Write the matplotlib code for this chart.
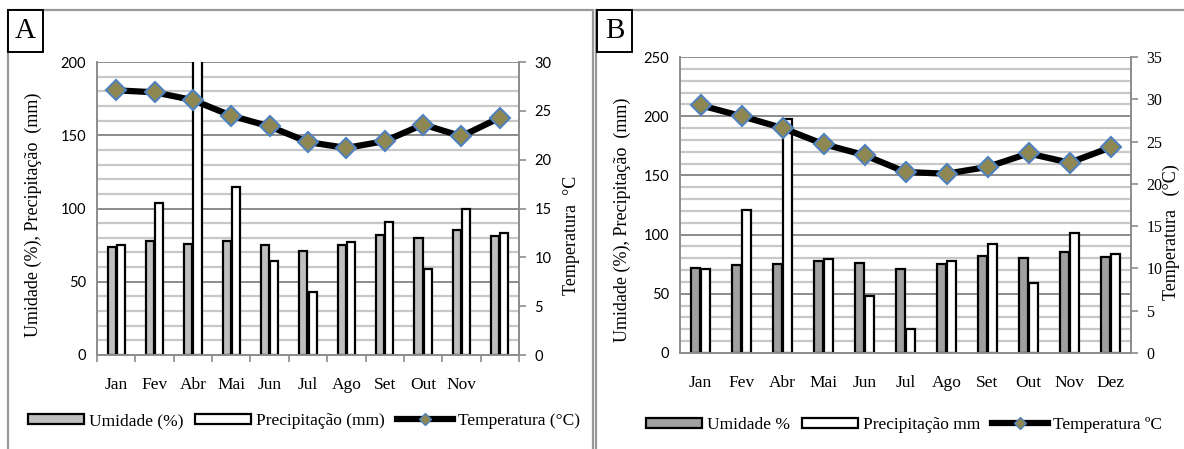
import matplotlib
matplotlib.use("Agg")
import matplotlib.pyplot as plt
import numpy as np
from matplotlib.patches import Rectangle, Patch
from matplotlib.lines import Line2D

# panel A
meses_a = ['Jan', 'Fev', 'Abr', 'Mai', 'Jun', 'Jul', 'Ago', 'Set', 'Out', 'Nov', '']
umid_a = [74, 78, 76, 78, 75, 71, 75, 82, 80, 85, 81]
prec_a = [75, 104, 290, 115, 64, 43, 77, 91, 59, 100, 83]
temp_a = [27.1, 26.9, 26.1, 24.5, 23.4, 21.8, 21.2, 21.9, 23.6, 22.4, 24.3]

# panel B
meses_b = ['Jan', 'Fev', 'Abr', 'Mai', 'Jun', 'Jul', 'Ago', 'Set', 'Out', 'Nov', 'Dez']
umid_b = [72, 74, 75, 78, 76, 71, 75, 82, 80, 85, 81]
prec_b = [71, 121, 198, 79, 48, 20, 78, 92, 59, 101, 84]
temp_b = [29.3, 28.0, 26.6, 24.7, 23.4, 21.4, 21.2, 22.0, 23.6, 22.5, 24.3]

SERIF = 'Liberation Serif'
SANS = 'Lato'
GRID_MIN = '#c8c8c8'
GRID_MAJ = '#8c8c8c'

fig = plt.figure(figsize=(11.84, 4.49), dpi=100)
W, H = 1184.0, 449.0


def box(x0, y0, x1, y1):
    return [x0 / W, 1 - y1 / H, (x1 - x0) / W, (y1 - y0) / H]


def panel(rect, meses, umid, prec, temp, ymax, tmax, gray, bw, xticks_marks,
          right_font, right_size):
    ax = fig.add_axes(rect)
    x = np.arange(len(meses))
    ax.set_ylim(0, ymax)
    ax.set_xlim(-0.5, len(meses) - 0.5)
    for v in range(10, ymax + 1, 10):
        if v % 50 == 0:
            ax.axhline(v, color=GRID_MAJ, lw=1.4, zorder=0)
        else:
            ax.axhline(v, color=GRID_MIN, lw=1.6, zorder=0)
    ax.bar(x - bw / 2 - 0.015, umid, width=bw, color=gray, edgecolor='black',
           linewidth=1.6, zorder=2)
    ax.bar(x + bw / 2 + 0.015, prec, width=bw, color='white', edgecolor='black',
           linewidth=1.6, zorder=2)
    ax.set_yticks(range(0, ymax + 1, 50))
    ax.set_xticks(x)
    ax.set_xticklabels(meses, fontfamily=SERIF, fontsize=12.5)
    ax.tick_params(axis='x', length=0, pad=16)
    if xticks_marks:
        ax.set_xticks(np.arange(-0.5, len(meses), 1), minor=True)
        ax.tick_params(axis='x', which='minor', length=5, color=GRID_MAJ, width=1.2)
    ax.tick_params(axis='y', length=0, pad=8, labelsize=10.5)
    for lab in ax.get_yticklabels():
        lab.set_fontfamily(SANS)
    for s in ['top', 'right']:
        ax.spines[s].set_visible(False)
    for s in ['left', 'bottom']:
        ax.spines[s].set_color(GRID_MAJ)
        ax.spines[s].set_linewidth(1.4)

    ax2 = ax.twinx()
    ax2.set_ylim(0, tmax)
    ax2.set_yticks(range(0, tmax + 1, 5))
    ax2.plot(x, temp, color='black', lw=4.5, marker='D', ms=10.5,
             markerfacecolor='#8f8752', markeredgecolor='#4f81bd',
             markeredgewidth=1.5, zorder=5)
    ax2.tick_params(axis='y', length=5, color=GRID_MAJ, width=1.2, pad=6,
                    labelsize=right_size)
    for lab in ax2.get_yticklabels():
        lab.set_fontfamily(right_font)
    for s in ['top', 'left', 'bottom']:
        ax2.spines[s].set_visible(False)
    ax2.spines['right'].set_color(GRID_MAJ)
    ax2.spines['right'].set_linewidth(1.4)
    return ax, ax2


panel(box(97, 62, 519, 355), meses_a, umid_a, prec_a, temp_a, 200, 30,
      '#bfbfbf', 0.21, True, SANS, 10.5)
panel(box(680, 57, 1131, 353), meses_b, umid_b, prec_b, temp_b, 250, 35,
      '#a0a0a0', 0.22, False, SERIF, 11.5)

# axis titles
fig.text(33 / W, 1 - 215 / H, 'Umidade (%), Precipitação  (mm)', rotation=90,
         ha='center', va='center', fontfamily=SERIF, fontsize=13)
fig.text(571 / W, 1 - 235 / H, 'Temperatura  °C', rotation=90,
         ha='center', va='center', fontfamily=SERIF, fontsize=13)
fig.text(622 / W, 1 - 220 / H, 'Umidade (%), Precipitação  (mm)', rotation=90,
         ha='center', va='center', fontfamily=SERIF, fontsize=13)
fig.text(1171 / W, 1 - 232 / H, 'Temperatura   (°C)', rotation=90,
         ha='center', va='center', fontfamily=SERIF, fontsize=13)

# panel borders
fig.patches.append(Rectangle((8 / W, -0.05), (593 - 8) / W, 1.05 - 10 / H,
                             transform=fig.transFigure, fill=False,
                             edgecolor='#999999', lw=1.6))
fig.patches.append(Rectangle((596 / W, -0.05), 1.0, 1.05 - 10 / H,
                             transform=fig.transFigure, fill=False,
                             edgecolor='#999999', lw=1.6))
# letter boxes
for (x0, lab) in [(8, 'A'), (597, 'B')]:
    fig.patches.append(Rectangle((x0 / W, 1 - 52 / H), 35 / W, 42 / H,
                                 transform=fig.transFigure, facecolor='white',
                                 edgecolor='black', lw=1.4))
    fig.text((x0 + 17.5) / W, 1 - 31 / H, lab, ha='center', va='center',
             fontfamily=SERIF, fontsize=21)

# legends
def legend(labels, gray, cx, cy):
    handles = [Patch(facecolor=gray, edgecolor='black', lw=1.6),
               Patch(facecolor='white', edgecolor='black', lw=1.6),
               Line2D([], [], color='black', lw=4.5, marker='D', ms=6,
                      markerfacecolor='#8f8752', markeredgecolor='#4f81bd')]
    fig.legend(handles, labels, loc='center', bbox_to_anchor=(cx / W, 1 - cy / H),
               ncol=3, frameon=False, prop={'family': SERIF, 'size': 12.5},
               handlelength=3.2, handleheight=0.55, handletextpad=0.3,
               columnspacing=0.7)


legend(['Umidade (%)', 'Precipitação (mm)', 'Temperatura (°C)'], '#bfbfbf', 304, 421)
legend(['Umidade %', 'Precipitação mm', 'Temperatura ºC'], '#a0a0a0', 904, 425)

fig.savefig('out.png', dpi=100)
